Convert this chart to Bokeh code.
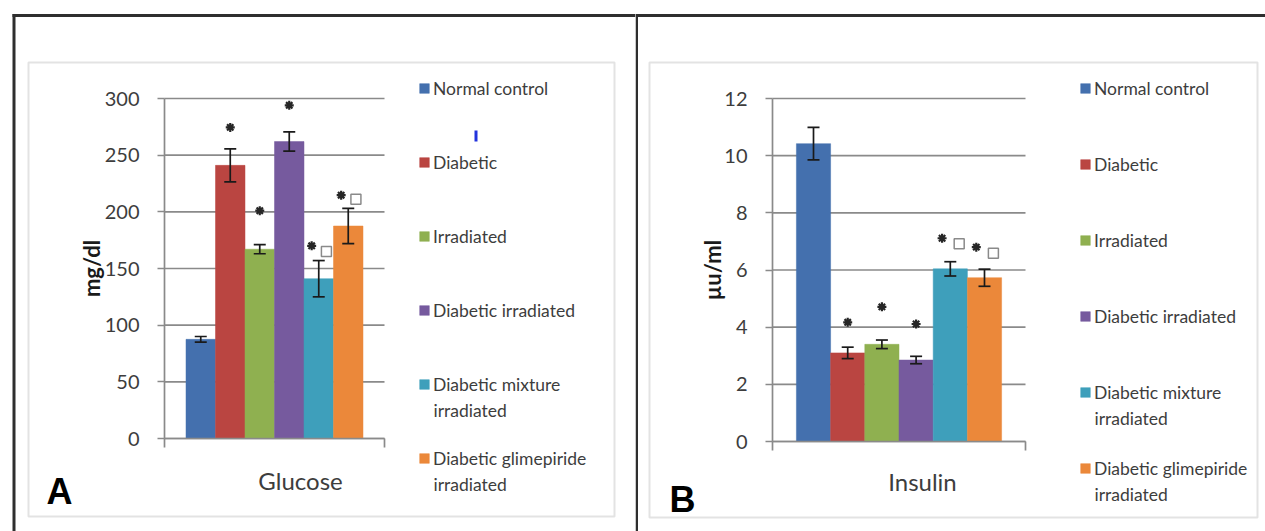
from bokeh.plotting import figure
from bokeh.models import (ColumnDataSource, Range1d, FixedTicker, LinearAxis, CustomJSTickFormatter,
                          Whisker, TeeHead, Legend, LegendItem, Label, BoxAnnotation)
from bokeh.transform import dodge
from bokeh.layouts import row
from bokeh.embed import file_html
from bokeh.resources import INLINE

# ---------------- data ----------------
groups = ["Normal control", "Diabetic", "Irradiated", "Diabetic irradiated",
          "Diabetic mixture irradiated", "Diabetic glimepiride irradiated"]
legend_line1 = ["Normal control", "Diabetic", "Irradiated", "Diabetic irradiated",
                "Diabetic mixture", "Diabetic glimepiride"]
legend_line2 = ["", "", "", "", "irradiated", "irradiated"]
colors = ["#4470AE", "#BA4541", "#8FB050", "#765A9E", "#3E9FBB", "#EB883A"]

glucose = [87.5, 241, 167, 262, 141, 187.5]
glucose_err = [2.5, 14.5, 4, 8.5, 16, 15.5]
glucose_star = [274.5, 201, 294, 170, 214.7]      # '*' marks (groups 2-6)
glucose_square = [165, 211]                         # open squares (groups 5-6)
glucose_ticks = [0, 50, 100, 150, 200, 250, 300]

insulin = [10.42, 3.1, 3.4, 2.85, 6.04, 5.73]
insulin_err = [0.57, 0.2, 0.15, 0.13, 0.25, 0.3]
insulin_star = [4.17, 4.71, 4.11, 7.11, 6.8]
insulin_square = [6.92, 6.59]
insulin_ticks = [0, 2, 4, 6, 8, 10, 12]

FONT = "Lato"
GRID = "#8a8a8a"
TXT = "#3d3d3d"


def canvas_box(l_, t_, r_, b_, **kw):
    return BoxAnnotation(left=l_, right=r_, top=t_, bottom=b_,
                         left_units="canvas", right_units="canvas",
                         top_units="canvas", bottom_units="canvas", **kw)


def make_panel(cfg):
    W, H = cfg["size"]
    L, T, R, B = cfg["plot"]          # plot area in canvas pixels
    n = len(groups)
    pad = cfg["pad"]
    unit = (R - L) / (n * (1 + pad))  # px per category
    xL = -0.5 - n * pad / 2
    xR = n - 0.5 + n * pad / 2
    ymax = cfg["ticks"][-1]
    per = (B - T) / ymax
    p = figure(x_range=Range1d(xL - L / unit, xR + (W - R) / unit),
               y_range=Range1d(-(H - B) / per, ymax + T / per),
               frame_width=W, frame_height=H, min_border=0,
               x_axis_location=None, y_axis_location=None,
               output_backend="svg", toolbar_location=None, outline_line_color=None)
    p.background_fill_color = "white"
    p.border_fill_color = "white"
    p.xgrid.visible = False
    p.ygrid.visible = False

    # horizontal gridlines
    gsrc = ColumnDataSource(dict(y=cfg["ticks"], x0=[xL] * len(cfg["ticks"]),
                                 x1=[xR] * len(cfg["ticks"])))
    p.segment(x0="x0", x1="x1", y0="y", y1="y", source=gsrc,
              line_color=GRID, line_width=1.7)

    # value axis
    ya = LinearAxis(fixed_location=xL, bounds=(0, ymax), ticker=FixedTicker(ticks=cfg["ticks"]),
                    major_tick_out=7, major_tick_in=0, minor_tick_out=0, minor_tick_in=0,
                    axis_line_color=GRID, axis_line_width=1.7,
                    major_tick_line_color=GRID, major_tick_line_width=1.7,
                    major_label_text_font=FONT, major_label_text_font_size="20px",
                    major_label_text_color=TXT, major_label_standoff=18,
                    axis_label=cfg["ytitle"], axis_label_text_font=FONT,
                    axis_label_text_font_style="bold", axis_label_text_font_size="22px",
                    axis_label_text_color="#1a1a1a", axis_label_standoff=cfg["title_standoff"])
    p.add_layout(ya, "left")
    # category axis: line plus boundary ticks
    xa = LinearAxis(fixed_location=0, bounds=(xL, xR), ticker=FixedTicker(ticks=[xL, xR]),
                    major_tick_out=9, major_tick_in=0, minor_tick_out=0, minor_tick_in=0,
                    axis_line_color=GRID, axis_line_width=1.7,
                    major_tick_line_color=GRID, major_tick_line_width=1.7,
                    formatter=CustomJSTickFormatter(code="return ''"))
    p.add_layout(xa, "below")

    vals, errs = cfg["vals"], cfg["errs"]
    src = ColumnDataSource(dict(x=list(range(n)), group=groups, val=vals,
                                upper=[v + e for v, e in zip(vals, errs)],
                                lower=[v - e for v, e in zip(vals, errs)],
                                color=colors))
    r = p.vbar(x="x", top="val", bottom=0, width=1.0, source=src,
               fill_color="color", line_color="color", line_width=0.5)
    head = dict(size=12, line_color="#1a1a1a", line_width=1.7)
    p.add_layout(Whisker(base="x", upper="upper", lower="lower", source=src, level="overlay",
                         line_color="#1a1a1a", line_width=1.7,
                         upper_head=TeeHead(**head), lower_head=TeeHead(**head)))

    st = cfg["star"]
    s1 = ColumnDataSource(dict(x=list(range(1, 4)), y=st[:3]))
    s2 = ColumnDataSource(dict(x=list(range(4, n)), y=st[3:], ysq=cfg["square"]))
    star_style = dict(marker="asterisk", size=9, line_color="#262626", line_width=2.2)
    p.scatter("x", "y", source=s1, **star_style)
    p.scatter(dodge("x", -0.24), "y", source=s2, **star_style)
    p.scatter(dodge("x", 0.26), "ysq", source=s2, marker="square",
              size=10, fill_color="white", line_color="#8a8a8a", line_width=1.5)

    # legend
    item_h = 22
    pitch = cfg["pitch"]
    spacing = int(pitch - item_h)
    leg_h = n * item_h + (n - 1) * spacing
    lx, lrow = cfg["legend"]  # canvas coords (square left, first row centre)
    top = lrow - item_h / 2
    items = [LegendItem(label=legend_line1[i], renderers=[r], index=i) for i in range(n)]
    leg = Legend(items=items, location=(lx, H - (top + leg_h)), orientation="vertical",
                 glyph_width=12, glyph_height=12, label_height=item_h, label_width=10,
                 spacing=spacing, padding=0, margin=0, border_line_color=None,
                 background_fill_alpha=0, label_standoff=3,
                 label_text_font=FONT, label_text_font_size="17.5px", label_text_color=TXT)
    p.add_layout(leg)
    for i in range(n):
        if legend_line2[i]:
            cy = lrow + i * pitch + cfg["line2_dy"]
            p.add_layout(Label(x=lx + 15, y=H - cy, x_units="screen", y_units="screen",
                               text=legend_line2[i], text_font=FONT, text_font_size="17.5px",
                               text_color=TXT, text_baseline="middle", text_align="left"))

    # category label and panel letter
    cx, cy = cfg["xlabel_pos"]
    p.add_layout(Label(x=cx, y=H - cy, x_units="screen", y_units="screen",
                       text=cfg["xlabel"], text_font=FONT, text_font_size="24px",
                       text_color=TXT, text_align="center", text_baseline="middle"))
    ax_, ay_ = cfg["letter_pos"]
    p.add_layout(Label(x=ax_, y=H - ay_, x_units="screen", y_units="screen",
                       text=cfg["letter"], text_font="Liberation Sans", text_font_size="36px",
                       text_font_style="bold", text_color="black",
                       text_align="left", text_baseline="middle"))

    # inner gray box
    bl, bt, br, bb = cfg["box"]
    p.add_layout(canvas_box(bl, bt, br, bb, fill_alpha=0, line_color="#a3a3a3", line_width=2))
    # outer dark frame pieces
    for (l_, t_, r_, b_) in cfg["frame_lines"]:
        p.add_layout(canvas_box(l_, t_, r_, b_, fill_color="#2e2e2e", fill_alpha=1, line_alpha=0))
    for (l_, t_, r_, b_, c_) in cfg.get("marks", []):
        p.add_layout(canvas_box(l_, t_, r_, b_, fill_color=c_, fill_alpha=1, line_alpha=0))
    return p


cfgA = dict(size=(635, 531), plot=(164, 98, 384, 438), pad=0.243,
            ticks=glucose_ticks, vals=glucose, errs=glucose_err, star=glucose_star,
            square=glucose_square, ytitle="mg/dl", title_standoff=-3,
            legend=(418, 88), pitch=74, line2_dy=26,
            xlabel="Glucose", xlabel_pos=(300, 480), letter="A", letter_pos=(46, 491),
            box=(28, 62, 614, 516),
            frame_lines=[(12, 13.5, 635, 16.5), (12, 13.5, 15, 531)],
            marks=[(474, 130, 477, 141, "#2233dd")])

cfgB = dict(size=(630, 531), plot=(137, 98, 390, 441), pad=0.233,
            ticks=insulin_ticks, vals=insulin, errs=insulin_err, star=insulin_star,
            square=insulin_square, ytitle="µu/ml", title_standoff=-5,
            legend=(444, 88), pitch=76, line2_dy=26,
            xlabel="Insulin", xlabel_pos=(287, 481), letter="B", letter_pos=(34, 499),
            box=(14, 62, 622, 517),
            frame_lines=[(0, 13.5, 630, 16.5), (0, 13.5, 2.5, 531)])

pA = make_panel(cfgA)
pB = make_panel(cfgB)
layout = row(pA, pB, spacing=0)

open("out.html", "w").write(file_html(layout, INLINE))
